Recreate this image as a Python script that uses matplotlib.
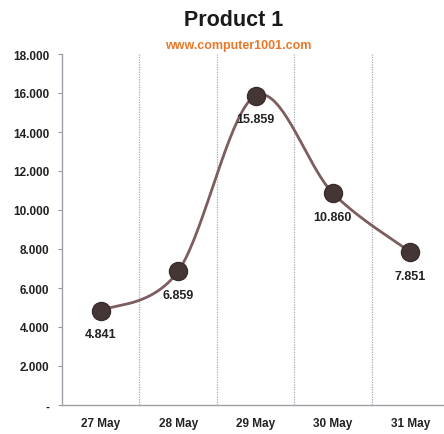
import matplotlib
matplotlib.use("Agg")
import matplotlib.pyplot as plt
import numpy as np
from matplotlib.ticker import FuncFormatter, FixedLocator

categories = ["27 May", "28 May", "29 May", "30 May", "31 May"]
values = [4841, 6859, 15859, 10860, 7851]
yticks = [0, 2000, 4000, 6000, 8000, 10000, 12000, 14000, 16000, 18000]
title = "Product 1"
subtitle = "www.computer1001.com"

fam = ["Liberation Sans", "DejaVu Sans"]

fig = plt.figure(figsize=(4.44, 4.35), dpi=100)
ax = fig.add_axes([62/444, 1 - 406/435, (449-62)/444, (406-55)/435])

x = np.arange(len(values), dtype=float)
y = np.array(values, dtype=float)

# Smoothed line (Catmull-Rom style Bezier like Excel's smoothed line)
pts = np.column_stack([x, y])
curve = []
t = np.linspace(0, 1, 40)
for i in range(len(pts) - 1):
    p0 = pts[i - 1] if i > 0 else pts[i]
    p1 = pts[i]
    p2 = pts[i + 1]
    p3 = pts[i + 2] if i + 2 < len(pts) else pts[i + 1]
    c1 = p1 + (p2 - p0) / 6
    c2 = p2 - (p3 - p1) / 6
    seg = ((1 - t)**3)[:, None] * p1 + (3 * (1 - t)**2 * t)[:, None] * c1 \
        + (3 * (1 - t) * t**2)[:, None] * c2 + (t**3)[:, None] * p2
    curve.append(seg)
curve = np.vstack(curve)
ax.plot(curve[:, 0], curve[:, 1], color="#7d5d5f", lw=2.0, zorder=2)
ax.plot(x, y, "o", ms=13, color="#453636", mec="#3a2c2c", zorder=3)

for xi, yi in zip(x, y):
    lab = f"{int(yi):,}".replace(",", ".")
    ax.annotate(lab, (xi, yi), xytext=(0, -17), textcoords="offset points",
                ha="center", va="center", fontsize=9, fontweight="bold",
                family=fam, color="#222222")

ax.set_xlim(-0.5, len(values) - 0.5)
ax.set_ylim(0, 18000)
ax.set_xticks(x)
ax.set_xticklabels(categories, fontsize=8.5, fontweight="bold", family=fam, color="#222222")
ax.xaxis.set_minor_locator(FixedLocator(np.arange(0.5, len(values) - 0.5, 1)))
ax.tick_params(axis="x", which="both", length=0, pad=9)
ax.grid(axis="x", which="minor", color="#a8a8b8", lw=0.9, ls=(0, (1, 1)))

ax.set_yticks(yticks)
ax.yaxis.set_major_formatter(FuncFormatter(lambda v, p: "-" if v == 0 else f"{int(v):,}".replace(",", ".")))
for lbl in ax.get_yticklabels():
    lbl.set_fontweight("bold")
    lbl.set_family(fam)
ax.tick_params(axis="y", labelsize=8.5, length=3, color="#999999", labelcolor="#222222", pad=6)

for s in ["top", "right"]:
    ax.spines[s].set_visible(False)
for s in ["left", "bottom"]:
    ax.spines[s].set_color("#a0a0a8")
    ax.spines[s].set_linewidth(1.0)

fig.text(234/444, 1 - 20/435, title, ha="center", va="center", fontsize=15.5,
         fontweight="bold", family=fam, color="#1a1a1a")
fig.text(238/444, 1 - 46/435, subtitle, ha="center", va="center", fontsize=9,
         fontweight="bold", family=fam, color="#e8782a")

fig.savefig("out.png", dpi=100)
